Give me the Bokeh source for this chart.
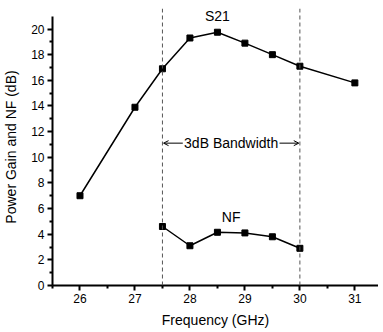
from bokeh.plotting import figure
from bokeh.models import Range1d, FixedTicker, Span, Label, Arrow, OpenHead
from bokeh.embed import file_html
from bokeh.resources import INLINE

freq_s21 = [26, 27, 27.5, 28, 28.5, 29, 29.5, 30, 31]
s21 = [7.0, 13.9, 16.9, 19.3, 19.75, 18.9, 18.0, 17.1, 15.8]
freq_nf = [27.5, 28, 28.5, 29, 29.5, 30]
nf = [4.6, 3.1, 4.15, 4.1, 3.8, 2.9]
band_edges = [27.5, 30]
x_ticks = [26, 27, 28, 29, 30, 31]
y_ticks = [0, 2, 4, 6, 8, 10, 12, 14, 16, 18, 20]

FONT = "Liberation Sans"

p = figure(width=378, height=330, output_backend="svg", toolbar_location=None,
           x_range=Range1d(25.5, 31.43), y_range=Range1d(0, 21.6),
           min_border_left=51, min_border_right=0, min_border_top=8, min_border_bottom=44)
p.outline_line_color = None
p.grid.visible = False
p.background_fill_color = "white"

for edge in band_edges:
    p.add_layout(Span(location=edge, dimension="height", line_color="#555555",
                      line_dash="4 3", line_width=1))

p.line(freq_s21, s21, line_color="black", line_width=1.5)
p.scatter(freq_s21, s21, marker="square", size=6, color="black")
p.line(freq_nf, nf, line_color="black", line_width=1.5)
p.scatter(freq_nf, nf, marker="square", size=6, color="black")

p.add_layout(Label(x=28.5, y=21.05, text="S21", text_align="center", text_baseline="middle",
                   text_font=FONT, text_font_size="14px", text_color="black"))
p.add_layout(Label(x=28.75, y=5.35, text="NF", text_align="center", text_baseline="middle",
                   text_font=FONT, text_font_size="14px", text_color="black"))
p.add_layout(Label(x=28.75, y=11.1, text="3dB Bandwidth", text_align="center",
                   text_baseline="middle", text_font=FONT, text_font_size="14px",
                   text_color="black"))
p.add_layout(Arrow(x_start=27.87, y_start=11.1, x_end=band_edges[0] + 0.02, y_end=11.1,
                   line_width=1, line_color="black",
                   end=OpenHead(size=5, line_width=1, line_color="black")))
p.add_layout(Arrow(x_start=29.63, y_start=11.1, x_end=band_edges[1] - 0.02, y_end=11.1,
                   line_width=1, line_color="black",
                   end=OpenHead(size=5, line_width=1, line_color="black")))

p.xaxis.ticker = FixedTicker(ticks=x_ticks, minor_ticks=[25.5, 26.5, 27.5, 28.5, 29.5, 30.5])
p.yaxis.ticker = FixedTicker(ticks=y_ticks, minor_ticks=list(range(1, 21, 2)))
p.yaxis.bounds = (0, 21)

for ax in (p.xaxis, p.yaxis):
    ax.axis_line_width = 2
    ax.axis_line_color = "black"
    ax.major_tick_line_width = 2
    ax.major_tick_line_color = "black"
    ax.minor_tick_line_width = 2
    ax.minor_tick_line_color = "black"
    ax.major_tick_in = 0
    ax.major_tick_out = 5
    ax.minor_tick_in = 0
    ax.minor_tick_out = 3
    ax.major_label_text_font = FONT
    ax.major_label_text_font_size = "12px"
    ax.major_label_text_color = "black"
    ax.axis_label_text_font = FONT
    ax.axis_label_text_font_size = "14px"
    ax.axis_label_text_font_style = "normal"
    ax.axis_label_text_color = "black"

p.xaxis.axis_label = "Frequency (GHz)"
p.yaxis.axis_label = "Power Gain and NF (dB)"
p.xaxis.major_label_standoff = 3
p.xaxis.axis_label_standoff = 6
p.yaxis.major_label_standoff = 3
p.yaxis.axis_label_standoff = 9

open("out.html", "w").write(file_html(p, INLINE))
